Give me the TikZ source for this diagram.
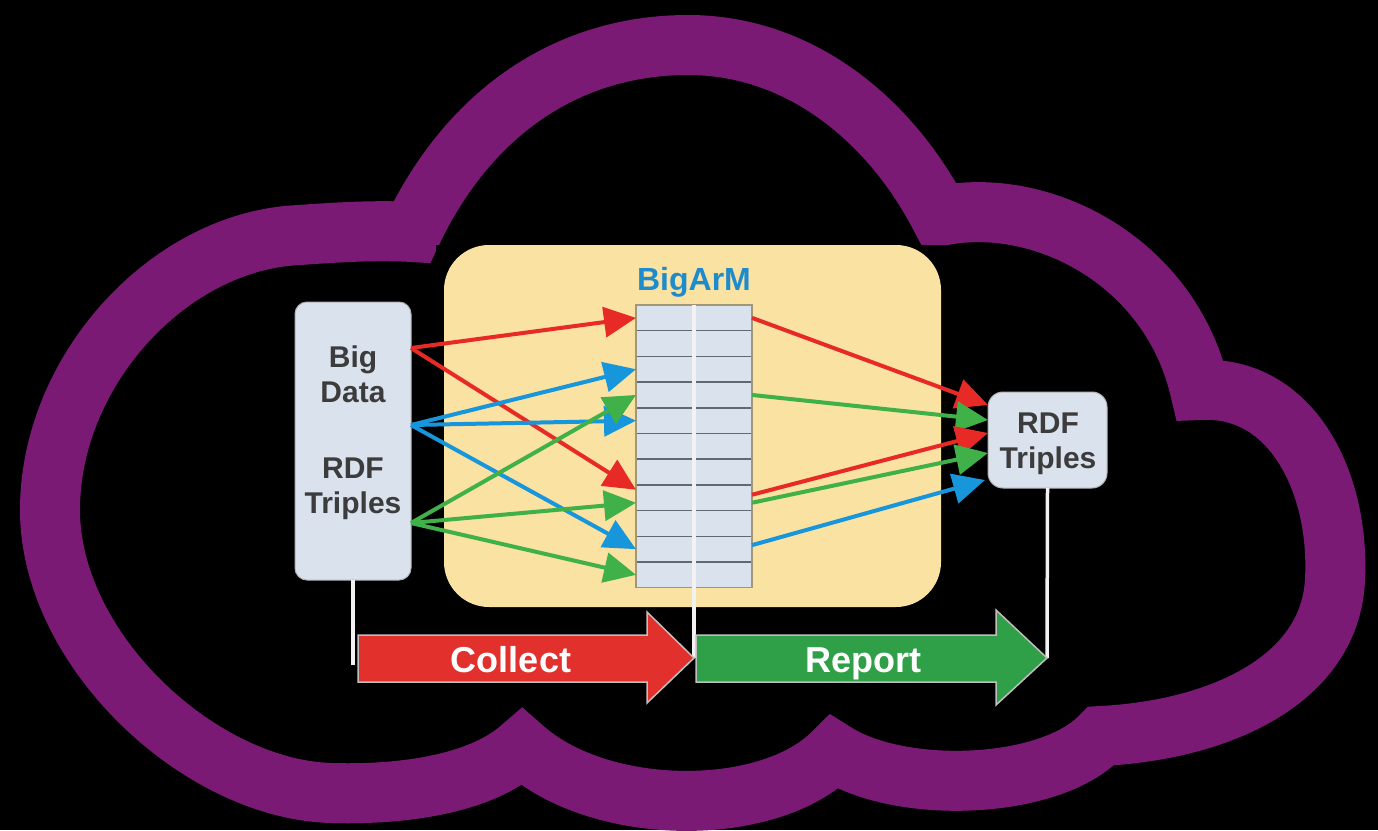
\documentclass[tikz,border=0pt]{standalone}
\usepackage{fontspec}
\setmainfont{Liberation Sans}
\usetikzlibrary{arrows.meta,calc}

\definecolor{cloudpurple}{RGB}{123,26,117}
\definecolor{armyellow}{RGB}{250,226,162}
\definecolor{cellblue}{RGB}{218,226,238}
\definecolor{rowline}{RGB}{95,105,115}
\definecolor{tableedge}{RGB}{160,150,120}
\definecolor{flowred}{RGB}{232,42,38}
\definecolor{flowgreen}{RGB}{64,176,72}
\definecolor{flowblue}{RGB}{24,150,220}
\definecolor{collectred}{RGB}{226,48,44}
\definecolor{reportgreen}{RGB}{48,160,72}
\definecolor{titleblue}{RGB}{30,140,204}
\definecolor{labelgray}{RGB}{60,60,60}

\begin{document}
\begin{tikzpicture}[x=1pt, y=-1pt,
     every node/.style = {inner sep=0pt, outer sep=0pt},
     databox/.style = {draw=gray!60, line width=1pt, fill=cellblue,
        rounded corners=12pt},
     cell/.style = {draw=rowline, line width=1.5pt, fill=cellblue,
        minimum width=116pt, minimum height=25.7pt},
     boxtext/.style = {font=\fontsize{30}{30}\selectfont\bfseries,
        text=labelgray, anchor=base},
     flow/.style = {line width=4pt, -{Triangle[length=32pt,width=30pt]}},
     wire/.style = {draw=white!90!gray, line width=3.5pt},
     stage/.style = {draw=gray!50, line width=1.5pt},
     stagetext/.style = {font=\fontsize{36}{36}\selectfont\bfseries,
        text=white, anchor=base}]
        \useasboundingbox (0,0) rectangle (1378,830);
        \fill[black] (0,0) rectangle (1378,830);
        % cloud
        \draw[cloudpurple, line width=60pt, line join=miter]
            (688,45) .. controls (800,45) and (890,120) .. (940,216)
            .. controls (1040,195) and (1170,260) .. (1200,390)
            .. controls (1290,385) and (1340,480) .. (1335,580)
            .. controls (1330,680) and (1220,730) .. (1101,736)
            .. controls (1050,790) and (900,795) .. (834,752)
            .. controls (770,818) and (600,818) .. (522,747)
            .. controls (480,785) and (400,795) .. (332,793)
            .. controls (200,790) and (50,650) .. (50,510)
            .. controls (50,370) and (170,240) .. (300,235)
            .. controls (340,232) and (380,230) .. (412,232)
            .. controls (470,110) and (570,45) .. cycle;
        \fill[black] (436,245) rectangle (1010,600);
        \node [fill=armyellow, rounded corners=45pt,
                minimum width=497pt, minimum height=362pt]
            at (692.5,426) (arm) {};
        % table
        \foreach \i in {1,...,11}
            \node [cell] at (694,{305+25.7*(\i-0.5)}) (row\i) {};
        \draw [tableedge, line width=1.5pt]
            (row1.north west) rectangle (row11.south east);
        \node [font=\fontsize{32}{32}\selectfont\bfseries, text=titleblue,
                anchor=base]
            at (694,290) (title) {BigArM};
        % boxes
        \node [databox, minimum width=116pt, minimum height=278pt]
            at (353,441) (bigdata) {};
        \node [boxtext] at (353,367) (tbig) {Big};
        \node [boxtext] at (353,402) (tdata) {Data};
        \node [boxtext] at (353,478) (trdf) {RDF};
        \node [boxtext] at (353,513) (ttriples) {Triples};
        \node [databox, rounded corners=15pt, minimum width=119pt,
                minimum height=96pt]
            at (1047.5,440) (rdfout) {};
        \node [boxtext] at (1048,433) (ordf) {RDF};
        \node [boxtext] at (1048,468) (otriples) {Triples};
        \coordinate (fanR) at ($(bigdata.east)+(0,-93)$);
        \coordinate (fanB) at ($(bigdata.east)+(0,-16)$);
        \coordinate (fanG) at ($(bigdata.east)+(0,82)$);
        \coordinate (cfoot) at (353,665);
        \coordinate (ctip) at (694,658);
        \coordinate (rtip) at (1047,658);
        % collect side
        \draw [flow, flowred] (fanR) -- (row1.west);
        \draw [flow, flowred] (fanR) -- ($(row8.west)+(0,-8)$);
        \draw [flow, flowblue] (fanB) -- (row3.west);
        \draw [flow, flowblue] (fanB) -- (row5.west);
        \draw [flow, flowblue] (fanB) -- (row10.west);
        \draw [flow, flowgreen] (fanG) -- (row4.west);
        \draw [flow, flowgreen] (fanG) -- ($(row8.west)+(0,5)$);
        \draw [flow, flowgreen] (fanG) -- (row11.west);
        % report side
        \draw [flow, flowred] (row1.east) -- ($(rdfout.west)+(0,-35)$);
        \draw [flow, flowgreen] (row4.east) -- ($(rdfout.west)+(0,-20)$);
        \draw [flow, flowred] ($(row8.east)+(0,-3)$) -- ($(rdfout.west)+(0,-7)$);
        \draw [flow, flowgreen] ($(row8.east)+(0,5)$) -- ($(rdfout.west)+(0,13)$);
        \draw [flow, flowblue] ($(row10.east)+(0,-4)$) -- ($(rdfout.west)+(-3,40)$);
        % stages
        \draw [wire] (bigdata.south) -- (cfoot);
        \draw [wire] (row1.north) -- (ctip);
        \draw [wire] (rdfout.south) -- (rtip);
        \filldraw [stage, fill=collectred] (358,635) -- (647,635) -- (647,612)
            -- (ctip) -- (647,703) -- (647,682) -- (358,682) -- cycle;
        \filldraw [stage, fill=reportgreen] (696,635) -- (996,635) -- (996,610)
            -- (rtip) -- (996,705) -- (996,682) -- (696,682) -- cycle;
        \node [stagetext] at (511,672) (collect) {Collect};
        \node [stagetext] at (863,672) (report) {Report};
\end{tikzpicture}
\end{document}
